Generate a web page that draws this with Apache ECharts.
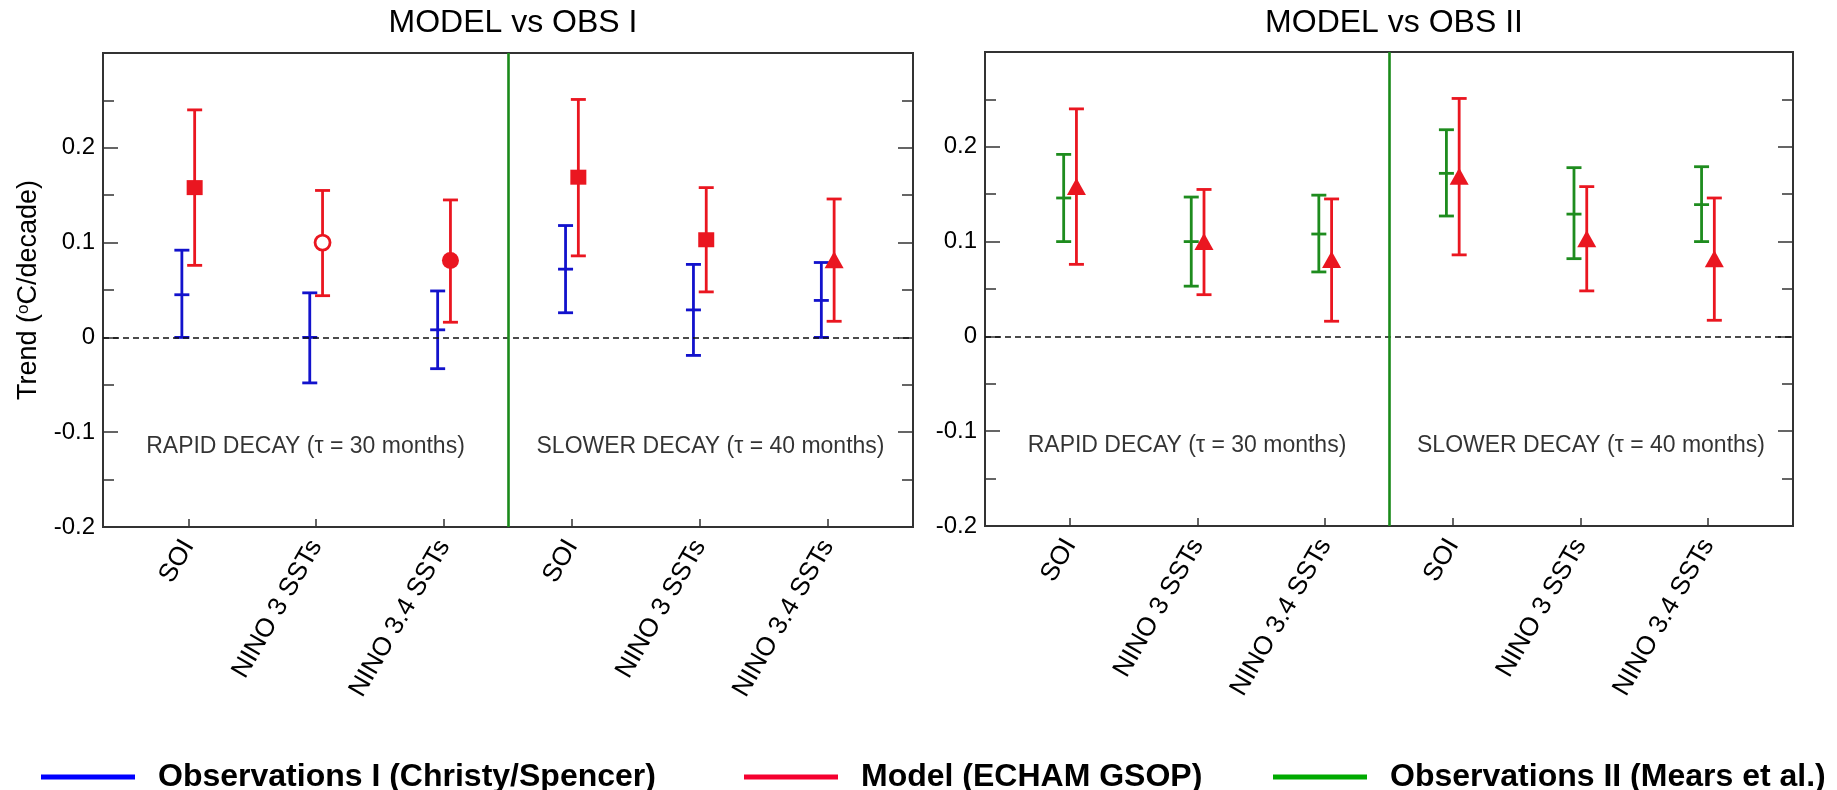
<!DOCTYPE html>
<html>
<head>
<meta charset="utf-8">
<title>Trend comparison</title>
<script src="https://cdn.jsdelivr.net/npm/echarts@6/dist/echarts.min.js"></script>
<style>
  html, body { margin: 0; padding: 0; background: #ffffff; }
  #chart { width: 1837px; height: 790px; }
</style>
</head>
<body>
<div id="chart"></div>
<script>
// ---- data (trend in °C/decade, with lower / upper bounds) ----
const categories = ['SOI', 'NINO 3 SSTs', 'NINO 3.4 SSTs', 'SOI', 'NINO 3 SSTs', 'NINO 3.4 SSTs'];

const obs1Trend = [0.045, 0.000, 0.008, 0.072, 0.029, 0.039];
const obs1Low   = [0.000, -0.048, -0.033, 0.026, -0.019, 0.000];
const obs1High  = [0.092, 0.047, 0.049, 0.118, 0.077, 0.079];

const modelTrend = [0.158, 0.100, 0.081, 0.169, 0.103, 0.082];
const modelLow   = [0.076, 0.044, 0.016, 0.086, 0.048, 0.017];
const modelHigh  = [0.240, 0.155, 0.145, 0.251, 0.158, 0.146];

const obs2Trend = [0.146, 0.100, 0.108, 0.172, 0.129, 0.139];
const obs2Low   = [0.100, 0.053, 0.068, 0.127, 0.082, 0.100];
const obs2High  = [0.192, 0.147, 0.149, 0.218, 0.178, 0.179];

const yTickLabels = ['-0.2', '-0.1', '0', '0.1', '0.2'];
const panelTitles = ['MODEL vs OBS I', 'MODEL vs OBS II'];
const decayLabels = ['RAPID DECAY (\u03c4 = 30 months)', 'SLOWER DECAY (\u03c4 = 40 months)'];
const seriesNames = ['Observations I (Christy/Spencer)', 'Model (ECHAM GSOP)', 'Observations II (Mears et al.)'];

// ---- styling ----
const FONT = '"Liberation Sans", Arial, Helvetica, sans-serif';
const BLUE = '#1212cc', RED = '#ea1620', GREEN = '#1e8c1e', DIVIDER_GREEN = '#1a8a1a';
const LEGEND_COLORS = ['#0000ff', '#f5002f', '#00aa00'];
const AXIS_COLOR = '#333333';
const TEXT_COLOR = '#000000';
const X_MIN = 1 / 3, X_MAX = 20 / 3, DIVIDER = 3.5, OFFSET = 0.05;
const Y_MIN = -0.2, Y_MAX = 0.3, Y_STEP = 0.1, LABEL_Y = -0.115;
const MODEL_MARKERS_I = ['rect', 'hollow', 'circle', 'rect', 'rect', 'triangle'];
const GRIDS = [
  { left: 103, top: 53, width: 810, height: 474 },
  { left: 985, top: 52, width: 808, height: 474 }
];
const LEGEND_LEFT = [41, 744, 1273];

const positions = categories.map((_, i) => i + 1);

function barData(trend, low, high, shift) {
  return trend.map((t, i) => [positions[i] + shift, low[i], t, high[i]]);
}

// vertical error bar with end caps; optional short bar marking the central value
function errorBar(showMid) {
  return function (params, api) {
    const x = api.value(0);
    const lo = api.coord([x, api.value(1)]);
    const mid = api.coord([x, api.value(2)]);
    const hi = api.coord([x, api.value(3)]);
    const half = 7.5;
    const style = { stroke: api.visual('color'), lineWidth: 2.8, fill: null };
    const seg = (x1, y1, x2, y2) => ({ type: 'line', shape: { x1, y1, x2, y2 }, style });
    const children = [
      seg(lo[0], lo[1], hi[0], hi[1]),
      seg(lo[0] - half, lo[1], lo[0] + half, lo[1]),
      seg(hi[0] - half, hi[1], hi[0] + half, hi[1])
    ];
    if (showMid) children.push(seg(mid[0] - half, mid[1], mid[0] + half, mid[1]));
    return { type: 'group', children };
  };
}

function xAxisFor(g) {
  return {
    type: 'value', gridIndex: g, min: X_MIN, max: X_MAX,
    axisLine: { show: false, onZero: false }, splitLine: { show: false },
    axisTick: { show: true, inside: true, length: 8, customValues: positions,
      lineStyle: { color: AXIS_COLOR, width: 1.5 } },
    axisLabel: { show: true, customValues: positions, rotate: 60, margin: 15,
      fontSize: 26, fontFamily: FONT, color: TEXT_COLOR,
      formatter: v => categories[Math.round(v) - 1] }
  };
}

function yAxisFor(g, side) {
  const left = side === 'left';
  return {
    type: 'value', gridIndex: g, position: side, min: Y_MIN, max: Y_MAX, interval: Y_STEP,
    axisLine: { show: false, onZero: false }, splitLine: { show: false },
    axisTick: { show: true, inside: true, length: 15, lineStyle: { color: AXIS_COLOR, width: 1.5 } },
    minorTick: { show: true, splitNumber: 2, length: 11, lineStyle: { color: AXIS_COLOR, width: 1.5 } },
    axisLabel: { show: left, margin: 8, fontSize: 24, fontFamily: FONT, color: TEXT_COLOR,
      formatter: v => {
        const t = yTickLabels.find(s => Math.abs(parseFloat(s) - v) < 1e-6);
        return t === undefined ? '' : t;
      } },
    name: left && g === 0 ? 'Trend ({sup|o}C/decade)' : '',
    nameLocation: 'middle', nameGap: 61, nameRotate: 90,
    nameTextStyle: { fontSize: 27, fontFamily: FONT, color: TEXT_COLOR,
      rich: { sup: { fontSize: 17, fontFamily: FONT, color: TEXT_COLOR, verticalAlign: 'top', lineHeight: 27 } } }
  };
}

const guideLines = {
  silent: true, symbol: ['none', 'none'], label: { show: false }, animation: false,
  data: [
    { yAxis: 0, lineStyle: { color: '#111', type: [6, 4], width: 1.7 } },
    { xAxis: DIVIDER, lineStyle: { color: DIVIDER_GREEN, type: 'solid', width: 2.6 } }
  ]
};

function decaySeries(g) {
  return {
    type: 'scatter', xAxisIndex: g, yAxisIndex: g * 2, silent: true,
    symbolSize: 1, itemStyle: { color: 'rgba(0,0,0,0)' },
    label: { show: true, position: 'inside', formatter: p => p.name,
      fontSize: 23, fontFamily: FONT, color: TEXT_COLOR },
    data: decayLabels.map((name, i) => ({
      name,
      value: [i === 0 ? (X_MIN + DIVIDER) / 2 : (DIVIDER + X_MAX) / 2, LABEL_Y]
    }))
  };
}

function markerSeries(g, shapes) {
  return {
    type: 'scatter', name: seriesNames[1], xAxisIndex: g, yAxisIndex: g * 2, z: 5,
    data: modelTrend.map((t, i) => {
      const shape = shapes[i];
      const item = { value: [positions[i] + OFFSET, t] };
      if (shape === 'rect') { item.symbol = 'rect'; item.symbolSize = [16, 15]; }
      else if (shape === 'triangle') { item.symbol = 'triangle'; item.symbolSize = [19, 17]; }
      else if (shape === 'circle') { item.symbol = 'circle'; item.symbolSize = 17; }
      else { item.symbol = 'circle'; item.symbolSize = 15;
        item.itemStyle = { color: '#ffffff', borderColor: RED, borderWidth: 2.8, opacity: 1 }; }
      return item;
    }),
    itemStyle: { color: RED, opacity: 1 }
  };
}

const option = {
  animation: false,
  backgroundColor: '#ffffff',
  title: panelTitles.map((text, g) => ({
    text, left: GRIDS[g].left + GRIDS[g].width / 2, top: 2, textAlign: 'center',
    textStyle: { fontSize: 32, fontWeight: 'normal', fontFamily: FONT, color: TEXT_COLOR }
  })),
  legend: seriesNames.map((name, i) => ({
    data: [{ name, icon: 'rect', itemStyle: { color: LEGEND_COLORS[i] } }],
    left: LEGEND_LEFT[i], top: 761, padding: 0, itemWidth: 94, itemHeight: 5,
    selectedMode: false,
    textStyle: { fontSize: 32, fontWeight: 'bold', fontFamily: FONT, color: '#000', padding: [0, 0, 0, 18] }
  })),
  grid: GRIDS.map(g => Object.assign({ show: true, borderColor: AXIS_COLOR, borderWidth: 2,
    backgroundColor: 'transparent' }, g)),
  xAxis: [xAxisFor(0), xAxisFor(1)],
  yAxis: [yAxisFor(0, 'left'), yAxisFor(0, 'right'), yAxisFor(1, 'left'), yAxisFor(1, 'right')],
  series: [
    // panel I
    { type: 'custom', name: seriesNames[0], xAxisIndex: 0, yAxisIndex: 0, itemStyle: { color: BLUE },
      renderItem: errorBar(true), data: barData(obs1Trend, obs1Low, obs1High, -OFFSET), markLine: guideLines },
    { type: 'custom', name: seriesNames[1], xAxisIndex: 0, yAxisIndex: 0, itemStyle: { color: RED },
      renderItem: errorBar(false), data: barData(modelTrend, modelLow, modelHigh, OFFSET) },
    markerSeries(0, MODEL_MARKERS_I),
    decaySeries(0),
    // panel II
    { type: 'custom', name: seriesNames[2], xAxisIndex: 1, yAxisIndex: 2, itemStyle: { color: GREEN },
      renderItem: errorBar(true), data: barData(obs2Trend, obs2Low, obs2High, -OFFSET), markLine: guideLines },
    { type: 'custom', name: seriesNames[1], xAxisIndex: 1, yAxisIndex: 2, itemStyle: { color: RED },
      renderItem: errorBar(false), data: barData(modelTrend, modelLow, modelHigh, OFFSET) },
    markerSeries(1, modelTrend.map(() => 'triangle')),
    decaySeries(1)
  ]
};

const chart = echarts.init(document.getElementById('chart'), null, { renderer: 'canvas' });
chart.setOption(option);
</script>
</body>
</html>
